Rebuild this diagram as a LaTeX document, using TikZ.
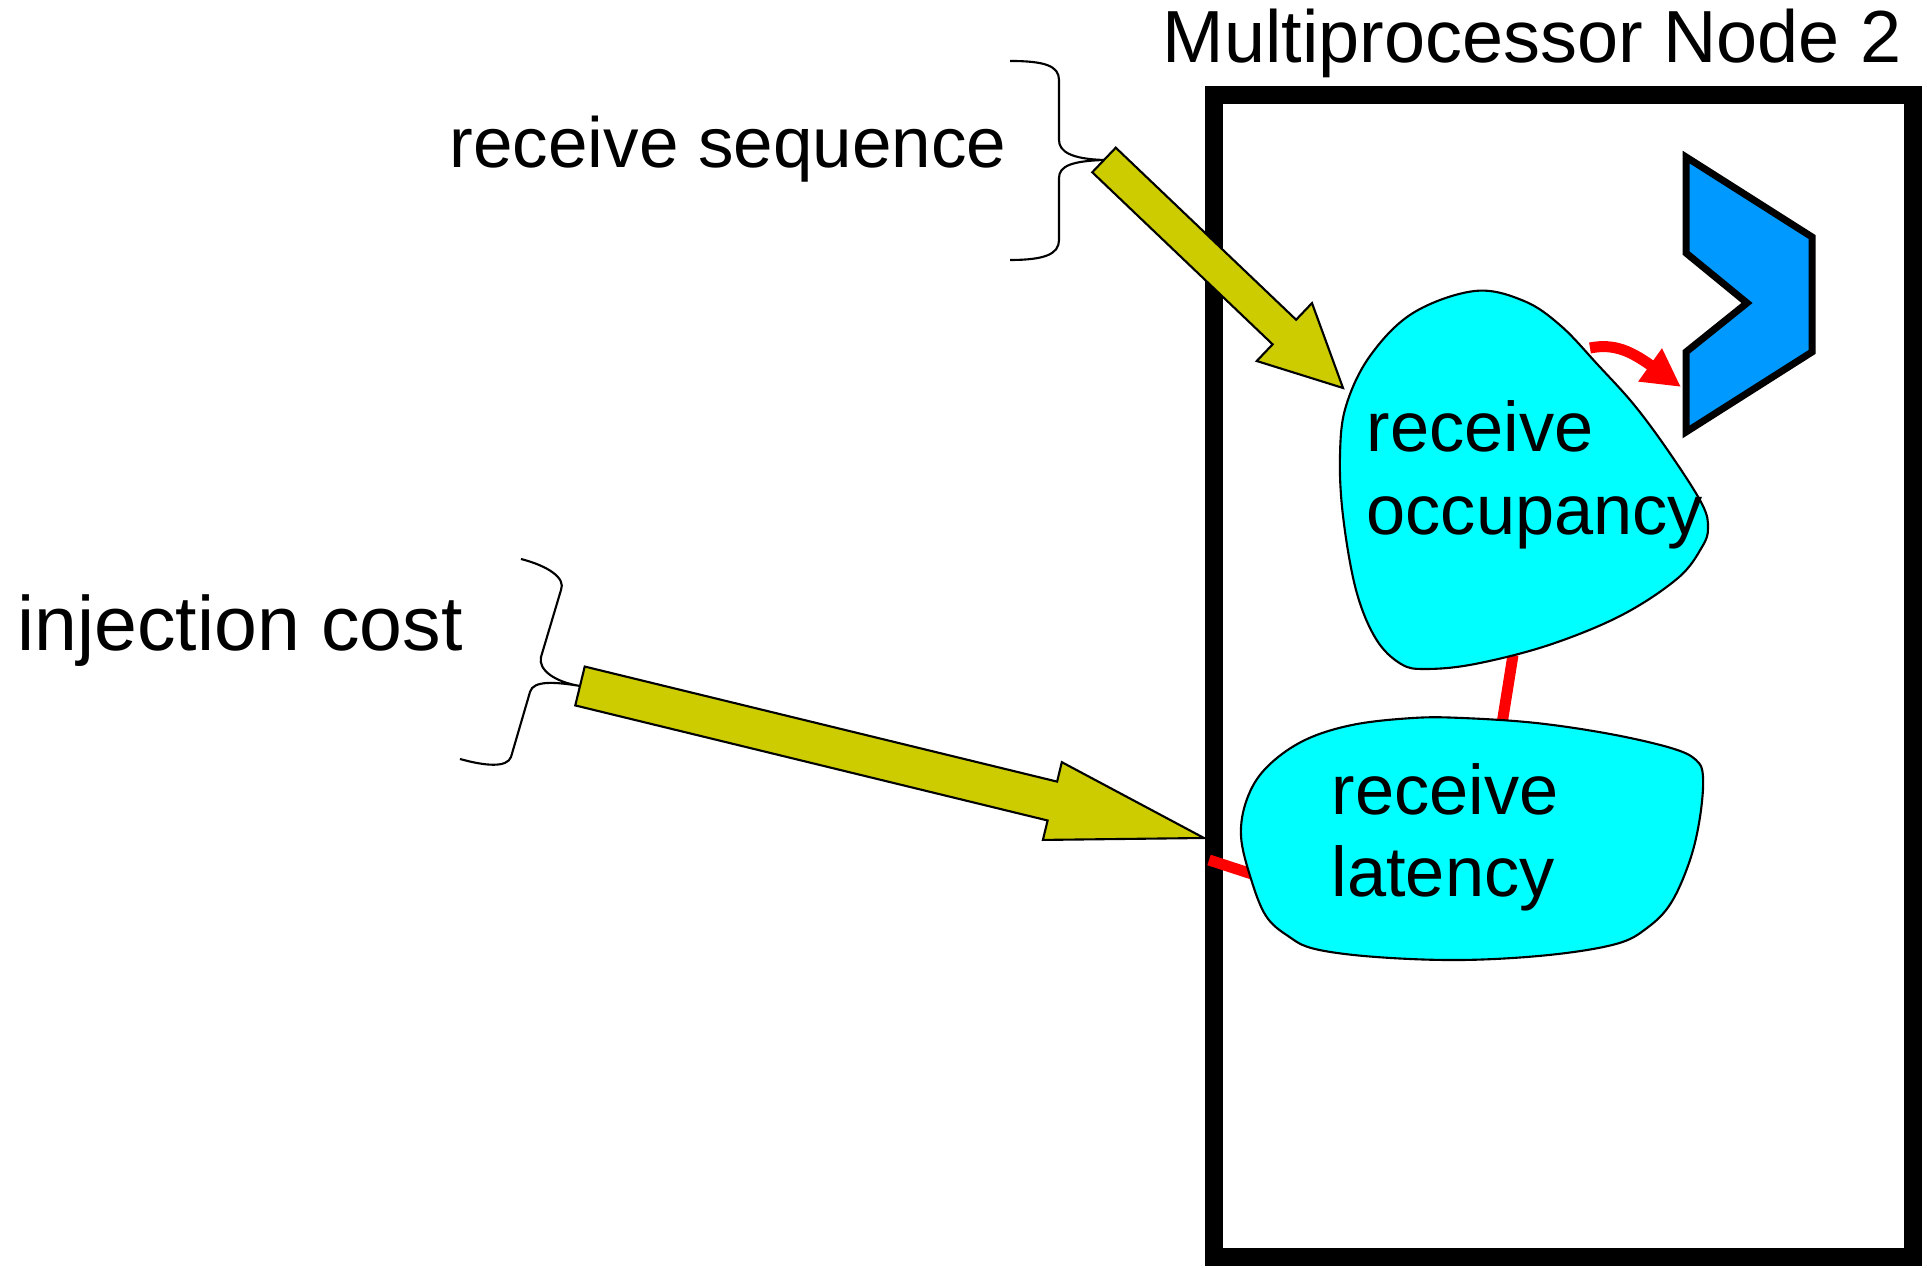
\documentclass[tikz,border=0pt]{standalone}
\usepackage{fontspec}
\setmainfont{Liberation Sans}
\usetikzlibrary{calc,arrows.meta,positioning}
\definecolor{BlobFill}{HTML}{00FFFF}
\definecolor{ChevFill}{HTML}{0099FF}
\definecolor{ArrFill}{HTML}{CCCC00}
\definecolor{LinkRed}{HTML}{FF0000}
% block arrow: from, to, shaft half width, head half width, head length
\newcommand{\blockarrow}[5]{%
  \coordinate (hb) at ($(#2)!#5!(#1)$);
  \draw[fill=ArrFill, line width=0.6pt]
    ($(#1)!#3!90:(#2)$) -- ($(hb)!#3!90:(#2)$) -- ($(hb)!#4!90:(#2)$)
    -- (#2) -- ($(hb)!#4!-90:(#2)$) -- ($(hb)!#3!-90:(#2)$)
    -- ($(#1)!#3!-90:(#2)$) -- cycle;}

\begin{document}
\begin{tikzpicture}[x=0.01cm, y=-0.01cm,
  every node/.style={font=\fontsize{21pt}{23.6pt}\selectfont, inner sep=0pt},
  blob/.style={draw, fill=BlobFill, line width=0.6pt},
  blobtext/.style={anchor=base west, align=left, font=\fontsize{20pt}{23.6pt}\selectfont},
  link/.style={LinkRed, line width=0.11cm},
  curly/.style={line width=0.6pt}]
  \useasboundingbox (0,0) rectangle (1927,1268);

  \node[draw, line width=0.18cm, minimum width=6.99cm, minimum height=11.62cm]
    (mpnode) at (1563.5,676) {};
  \node[anchor=base] (title) at (1532,63) {Multiprocessor Node 2};

  \coordinate (boxport) at (1209,860);
  \coordinate (latport) at (1255,875);
  \coordinate (occbot) at (1513,655);
  \coordinate (lattop) at (1501,730);
  \draw[link] (boxport) -- (latport);
  \draw[link] (occbot) -- (lattop);

  \draw[blob] plot[smooth cycle, tension=0.6] coordinates {
    (1475,291) (1413,313) (1370,356) (1346,406) (1340,455) (1343,516)
    (1356,590) (1376,639) (1401,664) (1426,669) (1475,664) (1549,645)
    (1622,615) (1678,578) (1702,547) (1708,528) (1702,504) (1671,455)
    (1635,406) (1598,365) (1561,326) (1524,301)};
  \draw[blob] plot[smooth cycle, tension=0.6] coordinates {
    (1241,836) (1247,799) (1266,768) (1303,741) (1352,725) (1413,718)
    (1462,718) (1536,723) (1610,734) (1671,748) (1696,760) (1703,777)
    (1700,817) (1690,860) (1671,903) (1647,928) (1616,944) (1549,955)
    (1462,960) (1376,957) (1315,949) (1288,936) (1266,916) (1251,879)};
  \node[blobtext] (occtext) at (1366,535) {receive\\occupancy};
  \node[blobtext] (lattext) at (1331,897) {receive\\latency};

  \draw[fill=ChevFill, line width=0.07cm] (1686,157) -- (1812,237) -- (1812,352)
    -- (1686,432) -- (1686,352) -- (1747,303) -- (1686,253) -- cycle;
  \coordinate (occport) at (1590,348);
  \coordinate (chevport) at (1681,387);
  \draw[link, -{Triangle[length=0.38cm, width=0.38cm]}]
    (occport) .. controls (1615,343) and (1632,352) .. (chevport);

  \node[anchor=base, font=\fontsize{20.2pt}{24pt}\selectfont] (seqlabel) at (728,168) {receive sequence};
  \node[anchor=base, font=\fontsize{21.9pt}{24pt}\selectfont] (injlabel) at (240,651) {injection cost};
  \coordinate (seqtip) at (1104,160);
  \coordinate (injtip) at (580,686);
  \draw[curly] (1010,61) .. controls (1045,61) and (1059,66) .. (1059,80)
    -- (1059,140) .. controls (1059,152) and (1072,159) .. (seqtip)
    .. controls (1072,161) and (1059,166) .. (1059,178)
    -- (1059,240) .. controls (1059,254) and (1045,260) .. (1010,260);
  \draw[curly] (521,559) .. controls (548,566) and (566,578) .. (561,590)
    -- (541,657) .. controls (538,670) and (555,682) .. (injtip)
    .. controls (556,682) and (533,680) .. (530,692)
    -- (511,757) .. controls (507,768) and (485,766) .. (460,759);

  \coordinate (occin) at (1343,388);
  \coordinate (latin) at (1204,838);
  \blockarrow{seqtip}{occin}{0.17cm}{0.40cm}{0.81cm}
  \blockarrow{injtip}{latin}{0.20cm}{0.40cm}{1.56cm}
\end{tikzpicture}
\end{document}
